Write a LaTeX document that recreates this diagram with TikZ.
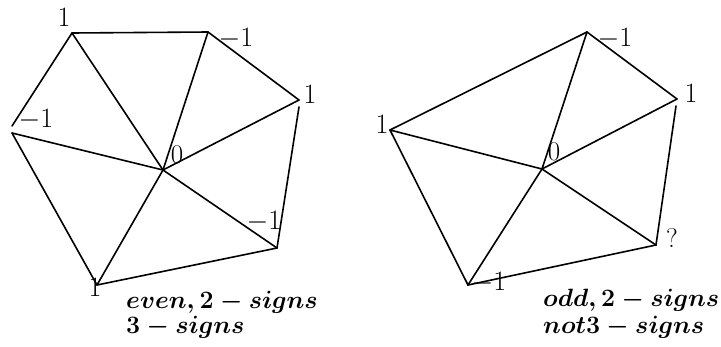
\documentclass[tikz,border=0pt]{standalone}
\usepackage{fix-cm}
\usepackage{fontspec}
\setmainfont{Latin Modern Roman}
\begin{document}
\begin{tikzpicture}[x=1pt,y=-1pt,
  edge/.style={line width=1.6pt, line cap=round},
  lbl/.style={inner sep=0pt, font=\fontsize{28}{32}\selectfont},
  smlbl/.style={inner sep=0pt, font=\fontsize{27}{31}\selectfont},
  captxt/.style={inner sep=0pt, anchor=base west, font=\fontsize{25}{29}\selectfont\boldmath}]
\useasboundingbox (0,0) rectangle (721,346);
% ---------- left figure ----------
\coordinate (C) at (163,170);
\coordinate (A1) at (72,33);
\coordinate (A2) at (208,32);
\coordinate (A3) at (299,100);
\coordinate (A3b) at (299,107);
\coordinate (A4) at (277,248);
\coordinate (A5) at (97,285);
\coordinate (A6) at (12,126);
\coordinate (A6b) at (12,133);
\draw[edge] (A6) -- (A1) -- (A2) -- (A3);
\draw[edge] (A3b) -- (A4) -- (A5) -- (A6b);
\draw[edge] (A1) -- (C); \draw[edge] (A2) -- (C); \draw[edge] (A3) -- (C);
\draw[edge] (A4) -- (C); \draw[edge] (A5) -- (C); \draw[edge] (A6b) -- (C);
\node[lbl] (la1) at (64,17) {1};
\node[lbl] (la2) at (236,39) {$-1$};
\node[lbl] (la3) at (310,94) {1};
\node[lbl] (la6) at (36,120) {$-1$};
\node[smlbl] (lc) at (177,155) {0};
\node[lbl] (la4) at (264,222) {$-1$};
\node[lbl] (la5) at (95,287) {1};
\node[captxt] (t1) at (126,308) {$even, 2-signs$};
\node[captxt] (t2) at (126,333) {$3-signs$};
% ---------- right figure ----------
\coordinate (D) at (542,169);
\coordinate (B1) at (587,32);
\coordinate (B2) at (677,99);
\coordinate (B2b) at (676,106);
\coordinate (B3) at (656,245);
\coordinate (B4) at (468,285);
\coordinate (B5) at (390,130);
\draw[edge] (B5) -- (B1) -- (B2);
\draw[edge] (B2b) -- (B3) -- (B4) -- (B5);
\draw[edge] (B1) -- (D); \draw[edge] (B2) -- (D); \draw[edge] (B3) -- (D);
\draw[edge] (B4) -- (D); \draw[edge] (B5) -- (D);
\node[lbl] (lb1) at (615,39) {$-1$};
\node[lbl] (lb2) at (691,93) {1};
\node[lbl] (lb5) at (382,124) {1};
\node[smlbl] (ld) at (554,152) {0};
\node[smlbl] (lb3) at (672,238) {?};
\node[lbl] (lb4) at (489,283) {$-1$};
\node[captxt] (t3) at (543,306) {$odd, 2-signs$};
\node[captxt] (t4) at (543,333) {$not3-signs$};
\end{tikzpicture}
\end{document}
